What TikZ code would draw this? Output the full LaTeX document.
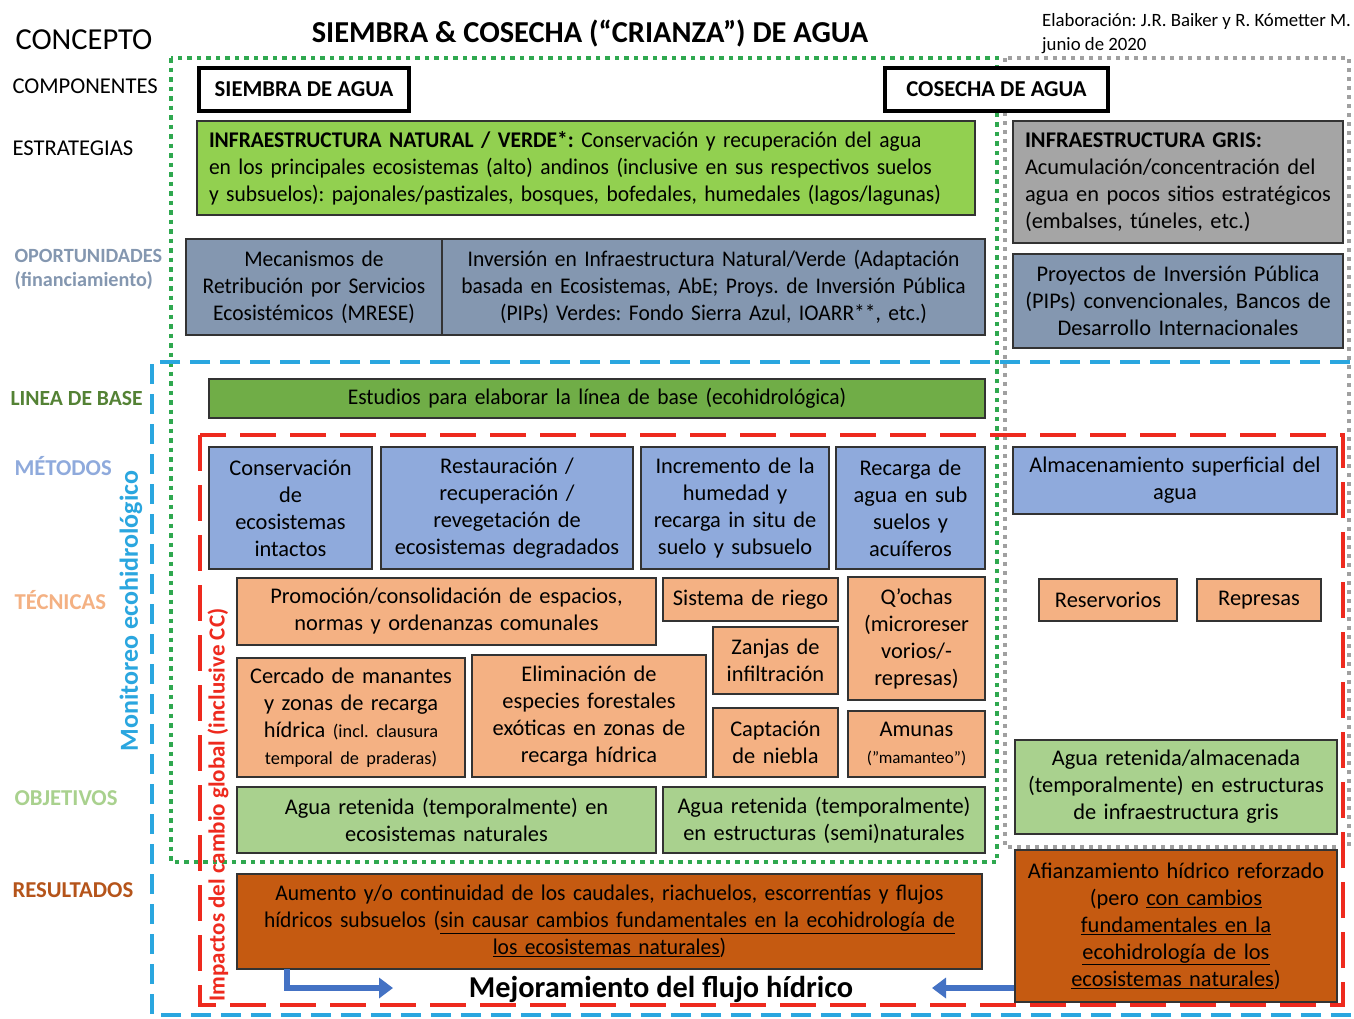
\documentclass[tikz,border=0pt]{standalone}
\usepackage{fontspec}
\setmainfont{Carlito}
\newfontfamily\condf[FakeStretch=0.96]{Carlito}
\usetikzlibrary{arrows.meta}
\frenchspacing
\definecolor{natc}{HTML}{92D050}
\definecolor{grisc}{HTML}{A5A5A5}
\definecolor{oppc}{HTML}{8497B0}
\definecolor{basec}{HTML}{70AD47}
\definecolor{metc}{HTML}{8FAADC}
\definecolor{tecc}{HTML}{F4B183}
\definecolor{objc}{HTML}{A9D18E}
\definecolor{resc}{HTML}{C55A11}
\definecolor{bordc}{HTML}{333333}
\definecolor{dotgreen}{HTML}{2FA84F}
\definecolor{dotgray}{HTML}{A0A0A0}
\definecolor{dashblue}{HTML}{2AA6DF}
\definecolor{dashred}{HTML}{EE2A1E}
\definecolor{arrblue}{HTML}{4472C4}
\definecolor{lblbase}{HTML}{548235}
\definecolor{lblres}{HTML}{B5541A}
\newcommand\bodyf{\fontsize{22.4}{27}\selectfont\frenchspacing}
\newcommand\smallf{\fontsize{18.3}{25}\selectfont}
\newcommand\tinyf{\fontsize{17}{21}\selectfont}
\tikzset{
  box/.style={draw=bordc, line width=1.4pt, inner ysep=0pt, font=\bodyf},
  lbl/.style={anchor=west, font=\fontsize{22.6}{26}\selectfont},
  lblb/.style={anchor=west, font=\fontsize{22.7}{26}\selectfont\bfseries},
  comp/.style={draw=black, line width=4pt, fill=white, font=\fontsize{22.7}{26}\selectfont\bfseries, inner sep=0pt},
  flowarrow/.style={draw=arrblue, line width=6pt, -{Triangle[length=14pt,width=20pt]}},
}
% \bx[pad]{name}{x1}{y1}{x2}{y2}{style}{text}
\newcommand\bx[8][3]{%
  \pgfmathsetmacro\bxw{#5-#3}\pgfmathsetmacro\bxh{#6-#4}\pgfmathsetmacro\bxt{#5-#3-2*#1}%
  \node[box,#7,inner xsep=#1pt,minimum width=\bxw pt,minimum height=\bxh pt,text width=\bxt pt] (#2) at ({(#3+#5)/2},{(#4+#6)/2}) {#8};}
\begin{document}
\begin{tikzpicture}[x=1pt,y=-1pt]
\useasboundingbox (0,0) rectangle (1354,1018);
\fill[white] (0,0) rectangle (1354,1018);

% frames
\draw[dotgreen, line width=4.5pt, dash pattern=on 4.5pt off 5pt] (171,58) rectangle (997,862);
\draw[dotgray, line width=4pt, dash pattern=on 4pt off 5pt] (1005,58) rectangle (1349,847);
\draw[dashblue, line width=4pt, dash pattern=on 20pt off 10pt] (1350,362) -- (152,362) -- (152,1015) -- (1354,1015);
\draw[dashred, line width=4pt, dash pattern=on 36pt off 14pt] (200,435) rectangle (1343,1005);

% headings
\node[anchor=west, font=\fontsize{30.5}{34}\selectfont] (concepto) at (12,40) {CONCEPTO};
\node[font=\fontsize{30.4}{34}\selectfont\bfseries] (titulo) at (590,34) {SIEMBRA \& COSECHA (“CRIANZA”) DE AGUA};
\node[anchor=north west, align=left, inner sep=0pt, font=\fontsize{18.8}{24}\selectfont] (autor) at (1042,13) {Elaboración: J.R. Baiker y R. Kómetter M.\\junio de 2020};

% left labels
\node[lbl] (lcomp) at (9,86) {COMPONENTES};
\node[lbl] (lestr) at (9,148) {ESTRATEGIAS};
\node[lblb, text=oppc, align=left, anchor=north west, font=\fontsize{20.2}{24}\selectfont\bfseries] (lopp) at (11,246) {OPORTUNIDADES\\(financiamiento)};
\node[lblb, text=lblbase, font=\fontsize{21.6}{26}\selectfont\bfseries] (lbase) at (7,398) {LINEA DE BASE};
\node[lblb, text=metc] (lmet) at (11,466) {MÉTODOS};
\node[lblb, text=tecc] (ltec) at (11,600) {TÉCNICAS};
\node[lblb, text=objc] (lobj) at (11,798) {OBJETIVOS};
\node[lblb, text=lblres] (lres) at (9,890) {RESULTADOS};

% vertical labels
\node[rotate=90, text=dashblue, font=\fontsize{26}{30}\selectfont\bfseries] (monit) at (131,611) {Monitoreo ecohidrológico};
\node[rotate=90, text=dashred, font=\fontsize{23}{26}\selectfont\bfseries] (impac) at (218,805) {Impactos del cambio global (inclusive CC)};

% components
\node[comp, minimum width=210pt, minimum height=43pt] (siembra) at (304,89.5) {SIEMBRA DE AGUA};
\node[comp, minimum width=223pt, minimum height=43pt] (cosecha) at (996.5,89.5) {COSECHA DE AGUA};

% strategies
\bx[12]{natural}{197}{121}{975}{215}{fill=natc, align=left}{\condf\textbf{INFRAESTRUCTURA NATURAL / VERDE*:} Conservación y recuperación del agua\\en los principales ecosistemas (alto) andinos (inclusive en sus respectivos suelos\\y subsuelos): pajonales/pastizales, bosques, bofedales, humedales (lagos/lagunas)}
\bx[12]{gris}{1013}{121}{1343}{243}{fill=grisc, align=left}{\textbf{INFRAESTRUCTURA GRIS:}\\Acumulación/concentración del\\agua en pocos sitios estratégicos\\(embalses, túneles, etc.)}

% opportunities
\bx{mrese}{186}{239}{442}{335}{fill=oppc, align=center}{\condf Mecanismos de\\Retribución por Servicios\\Ecosistémicos (MRESE)}
\bx{inversion}{442}{239}{985}{335}{fill=oppc, align=center}{\condf Inversión en Infraestructura Natural/Verde (Adaptación\\basada en Ecosistemas, AbE; Proys. de Inversión Pública\\(PIPs) Verdes: Fondo Sierra Azul, IOARR**, etc.)}
\bx{pips}{1013}{254}{1343}{348}{fill=oppc, align=center}{Proyectos de Inversión Pública\\(PIPs) convencionales, Bancos de\\Desarrollo Internacionales}

% baseline
\bx{base}{209}{379}{985}{418}{fill=basec, align=center}{\condf Estudios para elaborar la línea de base (ecohidrológica)}

% methods
\bx{m1}{209}{447}{372}{569}{fill=metc, align=center}{Conservación\\de\\ecosistemas\\intactos}
\bx{m2}{381}{447}{633}{569}{fill=metc, align=center}{Restauración /\\recuperación /\\revegetación de\\ecosistemas degradados}
\bx{m3}{641}{447}{829}{569}{fill=metc, align=center}{Incremento de la\\humedad y\\recarga in situ de\\suelo y subsuelo}
\bx{m4}{836}{447}{985}{569}{fill=metc, align=center}{Recarga de\\agua en sub\\suelos y\\acuíferos}
\bx{m5}{1013}{447}{1337}{514}{fill=metc, align=center}{Almacenamiento superficial del\\agua}

% techniques
\bx{t1}{237}{578}{656}{645}{fill=tecc, align=center}{Promoción/consolidación de espacios,\\normas y ordenanzas comunales}
\bx{t2}{663}{578}{838}{621}{fill=tecc, align=center}{Sistema de riego}
\bx{t3}{848}{577}{985}{700}{fill=tecc, align=center}{Q’ochas\\(microreser\\vorios/-\\represas)}
\bx{t4}{713}{627}{838}{694}{fill=tecc, align=center}{Zanjas de\\infiltración}
\bx{t5}{237}{658}{465}{777}{fill=tecc, align=center}{Cercado de manantes\\y zonas de recarga\\hídrica {\smallf(incl. clausura}\\{\smallf temporal de praderas)}}
\bx{t6}{472}{655}{706}{777}{fill=tecc, align=center}{Eliminación de\\especies forestales\\exóticas en zonas de\\recarga hídrica}
\bx{t7}{713}{708}{838}{777}{fill=tecc, align=center}{Captación\\de niebla}
\bx{t8}{848}{711}{985}{777}{fill=tecc, align=center}{Amunas\\{\tinyf(”mamanteo”)}}
\bx{t9}{1039}{579}{1177}{621}{fill=tecc, align=center}{Reservorios}
\bx{t10}{1197}{579}{1321}{621}{fill=tecc, align=center}{Represas}

% objectives
\bx{o1}{237}{787}{656}{853}{fill=objc, align=center}{Agua retenida (temporalmente) en\\ecosistemas naturales}
\bx{o2}{663}{787}{985}{853}{fill=objc, align=center}{Agua retenida (temporalmente)\\en estructuras (semi)naturales}
\bx{o3}{1015}{740}{1337}{834}{fill=objc, align=center}{Agua retenida/almacenada\\(temporalmente) en estructuras\\de infraestructura gris}

% results
\bx{r1}{237}{874}{982}{969}{fill=resc, align=center}{\condf Aumento y/o continuidad de los caudales, riachuelos, escorrentías y flujos\\hídricos subsuelos (\underline{sin causar cambios fundamentales en la ecohidrología de}\\\underline{los ecosistemas naturales})}
\bx{r2}{1015}{850}{1337}{1002}{fill=resc, align=center}{Afianzamiento hídrico reforzado\\(pero \underline{con cambios}\\\underline{fundamentales en la}\\\underline{ecohidrología de los}\\\underline{ecosistemas naturales})}

% flow
\node[font=\fontsize{30.3}{34}\selectfont\bfseries] (mejora) at (661,989) {Mejoramiento del flujo hídrico};
\coordinate (la) at (287,969);
\coordinate (lb) at (393,988);
\coordinate (rb) at (932,988);
\draw[flowarrow] (la) |- (lb);
\draw[flowarrow] (r2.west |- rb) -- (rb);
\end{tikzpicture}
\end{document}
